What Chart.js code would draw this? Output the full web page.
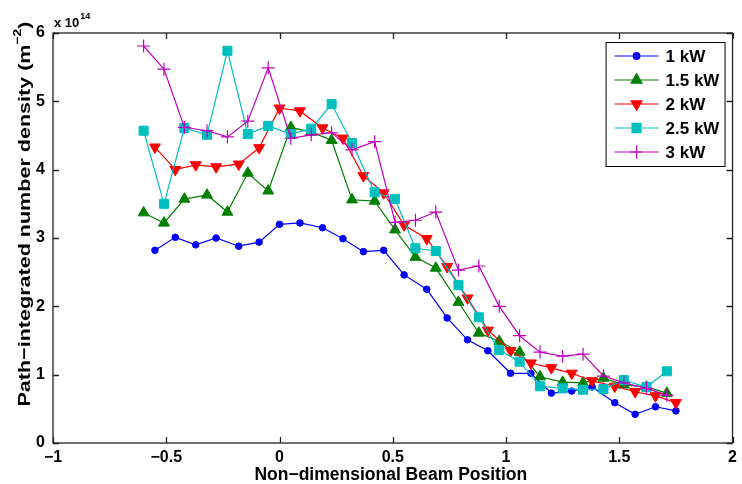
<!DOCTYPE html>
<html>
<head>
<meta charset="utf-8">
<script src="https://cdn.jsdelivr.net/npm/chart.js@4"></script>
<style>
  body { margin: 0; background: #fff; }
  #wrap { width: 742px; height: 484px; }
</style>
</head>
<body>
<div id="wrap"><canvas id="lineChart" width="742" height="484"></canvas></div>
<script>
// beam positions (two sampling grids)
const posA = [-0.55, -0.46, -0.37, -0.28, -0.18, -0.09, 0.00, 0.09, 0.19, 0.28, 0.37, 0.46, 0.55,
              0.65, 0.74, 0.83, 0.92, 1.02, 1.11, 1.20, 1.29, 1.38, 1.48, 1.57, 1.66, 1.75];
const posB = [-0.60, -0.51, -0.42, -0.32, -0.23, -0.14, -0.05, 0.05, 0.14, 0.23, 0.32, 0.42, 0.51,
              0.60, 0.69, 0.79, 0.88, 0.97, 1.06, 1.15, 1.25, 1.34, 1.43, 1.52, 1.62, 1.71];

// path-integrated number density, units of 1e14 m^-2
const kw1  = [2.82, 3.01, 2.90, 3.00, 2.88, 2.94, 3.20, 3.22, 3.15, 2.99, 2.80, 2.82, 2.46,
              2.25, 1.83, 1.51, 1.35, 1.02, 1.02, 0.73, 0.76, 0.82, 0.59, 0.42, 0.53, 0.47];
const kw15 = [3.37, 3.22, 3.57, 3.63, 3.38, 3.95, 3.69, 4.62, 4.55, 4.43, 3.56, 3.54, 3.12,
              2.72, 2.56, 2.06, 1.61, 1.49, 1.33, 0.97, 0.89, 0.88, 0.95, 0.85, 0.82, 0.73];
const kw2  = [4.33, 4.00, 4.07, 4.04, 4.08, 4.32, 4.90, 4.86, 4.61, 4.46, 3.91, 3.66, 3.19,
              2.99, 2.58, 2.12, 1.65, 1.35, 1.17, 1.10, 1.02, 0.91, 0.83, 0.75, 0.69, 0.59];
const kw25 = [4.57, 3.50, 4.61, 4.51, 5.74, 4.52, 4.64, 4.52, 4.60, 4.96, 4.39, 3.67, 3.57,
              2.85, 2.81, 2.31, 1.84, 1.36, 1.19, 0.83, 0.80, 0.78, 0.79, 0.92, 0.82, 1.05];
const kw3  = [5.81, 5.47, 4.62, 4.57, 4.48, 4.71, 5.49, 4.46, 4.51, 4.54, 4.29, 4.41, 3.23,
              3.26, 3.38, 2.53, 2.59, 2.00, 1.57, 1.33, 1.27, 1.30, 0.98, 0.88, 0.80, 0.70];

const seriesNames = ["1 kW", "1.5 kW", "2 kW", "2.5 kW", "3 kW"];
const xTicks = [-1, -0.5, 0, 0.5, 1, 1.5, 2];
const yTicks = [0, 1, 2, 3, 4, 5, 6];

const FONT = "'Liberation Sans', Arial, Helvetica, sans-serif";

function pts(xs, ys) {
    return xs.map((x, i) => ({ x: x, y: ys[i] }));
}

function fmt(v) {
    return v < 0 ? "\u2212" + Math.abs(v) : String(v);
}

const styles = [
    { color: "#0000ff", pointStyle: "circle",   radius: 3.3, rotation: 0 },
    { color: "#008000", pointStyle: "triangle", radius: 6.3, rotation: 0 },
    { color: "#ff0000", pointStyle: "triangle", radius: 6.3, rotation: 180 },
    { color: "#00bfbf", pointStyle: "rect",     radius: 6.4, rotation: 0 },
    { color: "#bf00bf", pointStyle: "cross",    radius: 6.5, rotation: 0 }
];

const allData = [pts(posA, kw1), pts(posB, kw15), pts(posA, kw2), pts(posB, kw25), pts(posB, kw3)];

const datasets = allData.map((d, i) => ({
    label: seriesNames[i],
    data: d,
    borderColor: styles[i].color,
    backgroundColor: styles[i].color,
    pointBackgroundColor: styles[i].color,
    pointBorderColor: styles[i].color,
    pointStyle: styles[i].pointStyle,
    pointRadius: styles[i].radius,
    pointRotation: styles[i].rotation,
    pointBorderWidth: styles[i].pointStyle === "cross" ? 1.2 : 1,
    borderWidth: 1.2,
    tension: 0,
    order: 5 - i
}));

// box, inward ticks and text labels
const matlabAxes = {
    id: "matlabAxes",
    afterDraw(chart) {
        const ctx = chart.ctx;
        const a = chart.chartArea;
        const xs = chart.scales.x, ys = chart.scales.y;
        ctx.save();
        ctx.strokeStyle = "#222";
        ctx.lineWidth = 1.3;
        ctx.beginPath();
        xTicks.forEach(v => {
            const px = Math.round(xs.getPixelForValue(v)) + 0.5;
            ctx.moveTo(px, a.bottom); ctx.lineTo(px, a.bottom - 6);
            ctx.moveTo(px, a.top); ctx.lineTo(px, a.top + 6);
        });
        yTicks.forEach(v => {
            const py = Math.round(ys.getPixelForValue(v)) + 0.5;
            ctx.moveTo(a.left, py); ctx.lineTo(a.left + 6, py);
            ctx.moveTo(a.right, py); ctx.lineTo(a.right - 6, py);
        });
        ctx.stroke();
        ctx.strokeRect(a.left, a.top, a.right - a.left, a.bottom - a.top);

        ctx.fillStyle = "#000";
        // x title
        ctx.font = "bold 17.5px " + FONT;
        ctx.textAlign = "center";
        ctx.textBaseline = "middle";
        ctx.fillText("Non\u2212dimensional Beam Position", (a.left + a.right) / 2 - 2, 475);

        // y title with superscript, stretched along its length
        const main = "Path\u2212integrated number density (m";
        const sup = "\u22122";
        ctx.font = "bold 17px " + FONT;
        const w1 = ctx.measureText(main).width;
        const w3 = ctx.measureText(")").width;
        ctx.font = "bold 11px " + FONT;
        const w2 = ctx.measureText(sup).width;
        const total = w1 + w2 + w3;
        const stretch = 385 / total;
        ctx.translate(25, 214);
        ctx.rotate(-Math.PI / 2);
        ctx.scale(stretch, 1);
        ctx.textAlign = "left";
        ctx.textBaseline = "middle";
        let x0 = -total / 2;
        ctx.font = "bold 17px " + FONT;
        ctx.fillText(main, x0, 0);
        ctx.font = "bold 11px " + FONT;
        ctx.fillText(sup, x0 + w1, -7);
        ctx.font = "bold 17px " + FONT;
        ctx.fillText(")", x0 + w1 + w2, 0);
        ctx.setTransform(1, 0, 0, 1, 0, 0);

        // exponent label
        ctx.textAlign = "left";
        ctx.textBaseline = "alphabetic";
        ctx.font = "bold 13px " + FONT;
        ctx.fillText("x 10", a.left + 1, 27);
        const wx = ctx.measureText("x 10").width;
        ctx.font = "bold 9px " + FONT;
        ctx.fillText("14", a.left + 2 + wx, 19);
        ctx.restore();
    }
};

// legend box inside the axes, top right
const insideLegend = {
    id: "insideLegend",
    afterDraw(chart) {
        const ctx = chart.ctx;
        const a = chart.chartArea;
        const bx = a.right - 127, by = a.top + 9, bw = 119, bh = 124;
        ctx.save();
        ctx.fillStyle = "#fff";
        ctx.fillRect(bx, by, bw, bh);
        ctx.strokeStyle = "#000";
        ctx.lineWidth = 1;
        ctx.strokeRect(bx + 0.5, by + 0.5, bw, bh);
        chart.data.datasets.forEach((ds, i) => {
            const y = by + 14 + i * 24;
            ctx.strokeStyle = ds.borderColor;
            ctx.fillStyle = ds.borderColor;
            ctx.lineWidth = 1.2;
            ctx.beginPath();
            ctx.moveTo(bx + 9, y);
            ctx.lineTo(bx + 53, y);
            ctx.stroke();
            Chart.helpers.drawPoint(ctx, {
                pointStyle: ds.pointStyle,
                radius: ds.pointRadius,
                rotation: ds.pointRotation,
                borderWidth: ds.pointBorderWidth
            }, bx + 31, y);
            ctx.fillStyle = "#000";
            ctx.font = "bold 17px " + FONT;
            ctx.textAlign = "left";
            ctx.textBaseline = "middle";
            ctx.fillText(ds.label, bx + 60, y + 1);
        });
        ctx.restore();
    }
};

const ctx = document.getElementById("lineChart").getContext("2d");
const lineChart = new Chart(ctx, {
    type: "line",
    data: { datasets: datasets },
    plugins: [matlabAxes, insideLegend],
    options: {
        responsive: false,
        animation: false,
        layout: { padding: { top: 33, right: 6, left: 0, bottom: 0 } },
        plugins: {
            legend: { display: false },
            tooltip: { enabled: false }
        },
        scales: {
            x: {
                type: "linear",
                min: -1, max: 2,
                afterFit: s => { s.height = 41; },
                afterBuildTicks: s => { s.ticks = xTicks.map(v => ({ value: v })); },
                grid: { display: false, drawTicks: false },
                border: { display: false },
                ticks: {
                    padding: 5,
                    maxRotation: 0,
                    color: "#000",
                    font: { family: FONT, size: 16, weight: "bold" },
                    callback: v => fmt(v)
                }
            },
            y: {
                type: "linear",
                min: 0, max: 6,
                afterFit: s => { s.width = 53; },
                afterBuildTicks: s => { s.ticks = yTicks.map(v => ({ value: v })); },
                grid: { display: false, drawTicks: false },
                border: { display: false },
                ticks: {
                    padding: 8,
                    color: "#000",
                    font: { family: FONT, size: 16, weight: "bold" },
                    callback: v => fmt(v)
                }
            }
        }
    }
});
</script>
</body>
</html>
